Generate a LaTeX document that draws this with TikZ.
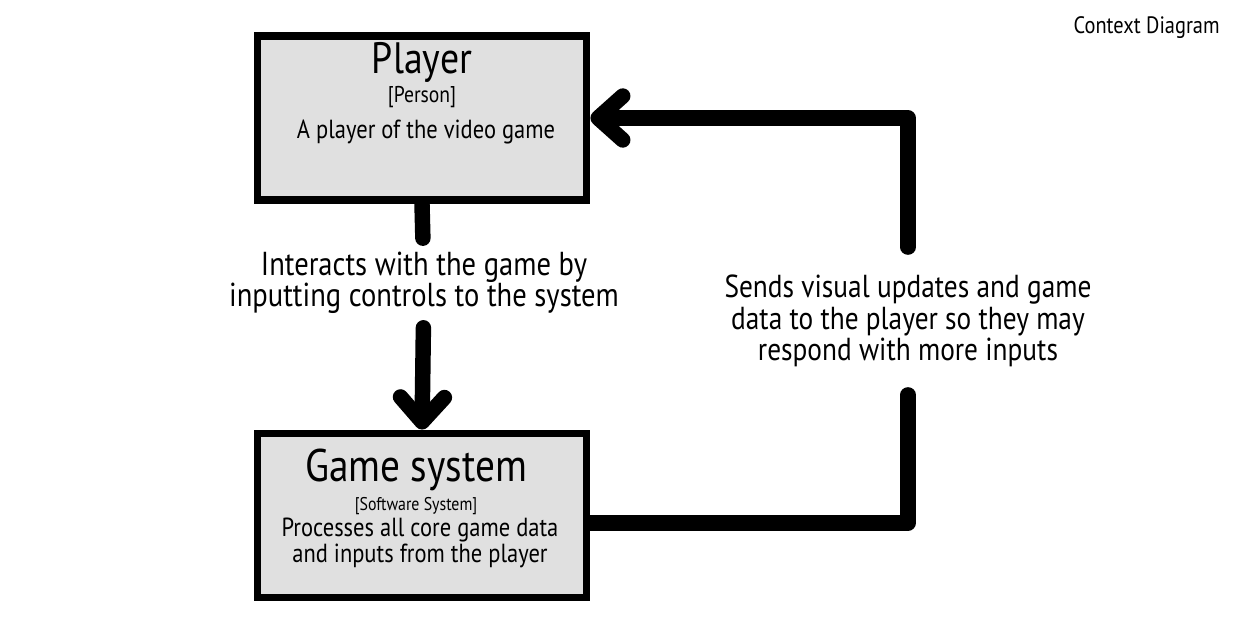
\documentclass[tikz,border=0pt]{standalone}
\usepackage{fontspec}
\setmainfont{PT Sans}[FakeStretch=0.86]
\usetikzlibrary{arrows.meta,backgrounds}

\definecolor{boxgray}{HTML}{E0E0E0}

\tikzset{
    sysbox/.style={rectangle, draw, line width=4.5pt, fill=boxgray, minimum width=6.58cm, minimum height=3.28cm, inner sep=0pt},
    boxtitle/.style={font=\fontsize{25}{27}\selectfont, inner sep=0pt},
    boxkind/.style={font=\fontsize{10.5}{12}\selectfont, inner sep=0pt},
    boxdesc/.style={font=\fontsize{14.9}{14.7}\selectfont, align=center, inner sep=0pt},
    flowlabel/.style={font=\fontsize{18.9}{17.6}\selectfont, align=center, inner sep=0pt, outer sep=8pt},
    wire/.style={line width=8.8pt, line cap=round, line join=round},
    barb/.style={-{Straight Barb[length=14pt, width=25pt, round]}}
}

\begin{document}
\begin{tikzpicture}[x=0.02cm, y=-0.02cm]
    \useasboundingbox (0,0) rectangle (1260,634);

    % boxes
    \node[sysbox] (player) at (422,118) {};
    \node[boxtitle] (playername) at (422,62) {Player};
    \node[boxkind, font=\fontsize{13}{14}\selectfont] (playerkind) at (422,97) {[Person]};
    \node[boxdesc] (playerdesc) at (426,132) {A player of the video game};

    \node[sysbox] (game) at (422,515.5) {};
    \node[boxtitle, font=\fontsize{26}{28}\selectfont] (gamename) at (416,470) {Game system};
    \node[boxkind] (gamekind) at (416,506) {[Software System]};
    \node[boxdesc] (gamedesc) at (420,543) {Processes all core game data\\and inputs from the player};

    % connector labels
    \node[flowlabel] (inputs) at (424,283) {Interacts with the game by\\inputting controls to the system};
    \node[flowlabel, font=\fontsize{18.1}{17.8}\selectfont, outer sep=16pt] (updates) at (908,321) {Sends visual updates and game\\data to the player so they may\\respond with more inputs};

    \node[font=\fontsize{13.5}{15}\selectfont, anchor=east, inner sep=0pt] (ctxtitle) at (1220,28) {Context Diagram};

    \begin{pgfonlayer}{background}
        \draw[wire] (player.south) -- (inputs);
        \draw[wire, barb] (inputs) -- (game.north);
        \draw[wire] ([yshift=-0.15cm]game.east) -| (updates);
        \draw[wire, barb] (updates) |- (player.east);
    \end{pgfonlayer}
\end{tikzpicture}
\end{document}
